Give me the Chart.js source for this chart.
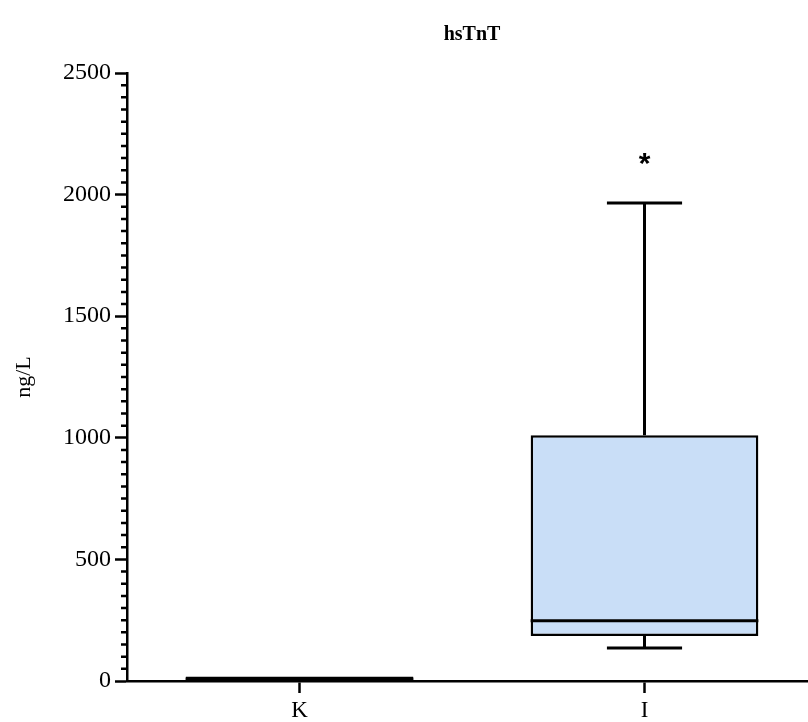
<!DOCTYPE html>
<html>
<head>
<meta charset="utf-8">
<title>hsTnT</title>
<script src="https://cdn.jsdelivr.net/npm/chart.js@4"></script>
<style>
  html, body { margin: 0; padding: 0; background: #fff; overflow: hidden; }
  #wrap { width: 830px; height: 722px; position: relative; }
</style>
</head>
<body>
<div id="wrap"><canvas id="chart"></canvas></div>
<script>
// box plot summary per group (ng/L)
const groups = ['K', 'I'];
const whiskerLow = [2, 136];
const q1 = [2, 185];
const median = [8, 248];
const q3 = [18, 1010];
const whiskerHigh = [18, 1965];
const marks = ['', '*'];

const chartTitle = 'hsTnT';
const yTicksMajor = [0, 500, 1000, 1500, 2000, 2500];
const yMinorStep = 50;

const serif = "'Liberation Serif', 'Times New Roman', serif";

// whiskers, median lines, minor ticks, significance marks and the title
const boxExtras = {
  id: 'boxExtras',
  afterDatasetsDraw(chart) {
    const ctx = chart.ctx;
    const y = chart.scales.y;
    const area = chart.chartArea;
    const meta = chart.getDatasetMeta(0);
    ctx.save();
    ctx.strokeStyle = '#000';
    ctx.lineCap = 'butt';
    meta.data.forEach((bar, i) => {
      const cx = bar.x;
      const half = bar.width / 2;
      const capHalf = bar.width * 0.165;
      ctx.lineWidth = 3;
      ctx.beginPath();
      if (whiskerHigh[i] > q3[i]) {
        ctx.moveTo(cx, y.getPixelForValue(q3[i]));
        ctx.lineTo(cx, y.getPixelForValue(whiskerHigh[i]));
        ctx.moveTo(cx - capHalf, y.getPixelForValue(whiskerHigh[i]));
        ctx.lineTo(cx + capHalf, y.getPixelForValue(whiskerHigh[i]));
      }
      if (whiskerLow[i] < q1[i]) {
        ctx.moveTo(cx, y.getPixelForValue(q1[i]));
        ctx.lineTo(cx, y.getPixelForValue(whiskerLow[i]));
        ctx.moveTo(cx - capHalf, y.getPixelForValue(whiskerLow[i]));
        ctx.lineTo(cx + capHalf, y.getPixelForValue(whiskerLow[i]));
      }
      ctx.stroke();
      ctx.beginPath();
      ctx.moveTo(cx - half, y.getPixelForValue(median[i]));
      ctx.lineTo(cx + half, y.getPixelForValue(median[i]));
      ctx.stroke();
      if (marks[i]) {
        ctx.fillStyle = '#000';
        ctx.font = "bold 30px 'Liberation Sans', Arial, sans-serif";
        ctx.textAlign = 'center';
        ctx.textBaseline = 'middle';
        ctx.fillText(marks[i], cx, y.getPixelForValue(whiskerHigh[i]) - 38);
      }
    });
    // minor ticks on the value axis
    ctx.lineWidth = 2.5;
    ctx.beginPath();
    for (let v = y.min; v <= y.max; v += yMinorStep) {
      if (yTicksMajor.includes(v)) continue;
      const py = y.getPixelForValue(v);
      ctx.moveTo(y.right - 6, py);
      ctx.lineTo(y.right, py);
    }
    ctx.stroke();
    // title centred over the plot area
    ctx.fillStyle = '#000';
    ctx.font = 'bold 20px ' + serif;
    ctx.textAlign = 'center';
    ctx.textBaseline = 'middle';
    ctx.fillText(chartTitle, (area.left + area.right) / 2, 35);
    ctx.restore();
  }
};

new Chart(document.getElementById('chart'), {
  type: 'bar',
  data: {
    labels: groups,
    datasets: [{
      data: groups.map((g, i) => [q1[i], q3[i]]),
      backgroundColor: '#c9def7',
      borderColor: '#000',
      borderWidth: 2.5,
      borderSkipped: false,
      categoryPercentage: 1,
      barPercentage: 0.66
    }]
  },
  options: {
    responsive: true,
    maintainAspectRatio: false,
    animation: false,
    layout: { padding: { left: 0, right: 13, top: 73, bottom: 0 } },
    plugins: {
      legend: { display: false },
      tooltip: { enabled: false },
      title: { display: false }
    },
    scales: {
      x: {
        offset: true,
        grid: { offset: false, drawOnChartArea: false, tickLength: 12, tickWidth: 2.5, tickColor: '#000' },
        border: { color: '#000', width: 2.5 },
        ticks: { color: '#000', padding: 4, font: { family: serif, size: 23 } },
        afterFit(scale) { scale.height = 41; }
      },
      y: {
        min: 0,
        max: 2500,
        grid: { drawOnChartArea: false, tickLength: 12, tickWidth: 2.5, tickColor: '#000' },
        border: { color: '#000', width: 2.5 },
        ticks: {
          color: '#000',
          stepSize: 500,
          padding: 4,
          font: { family: serif, size: 24 },
          callback: (v) => String(v)
        },
        title: {
          display: true,
          text: 'ng/L',
          color: '#000',
          font: { family: serif, size: 22 },
          padding: { top: 11, bottom: 0 }
        },
        afterFit(scale) { scale.width = 127; }
      }
    }
  },
  plugins: [boxExtras]
});
</script>
</body>
</html>
